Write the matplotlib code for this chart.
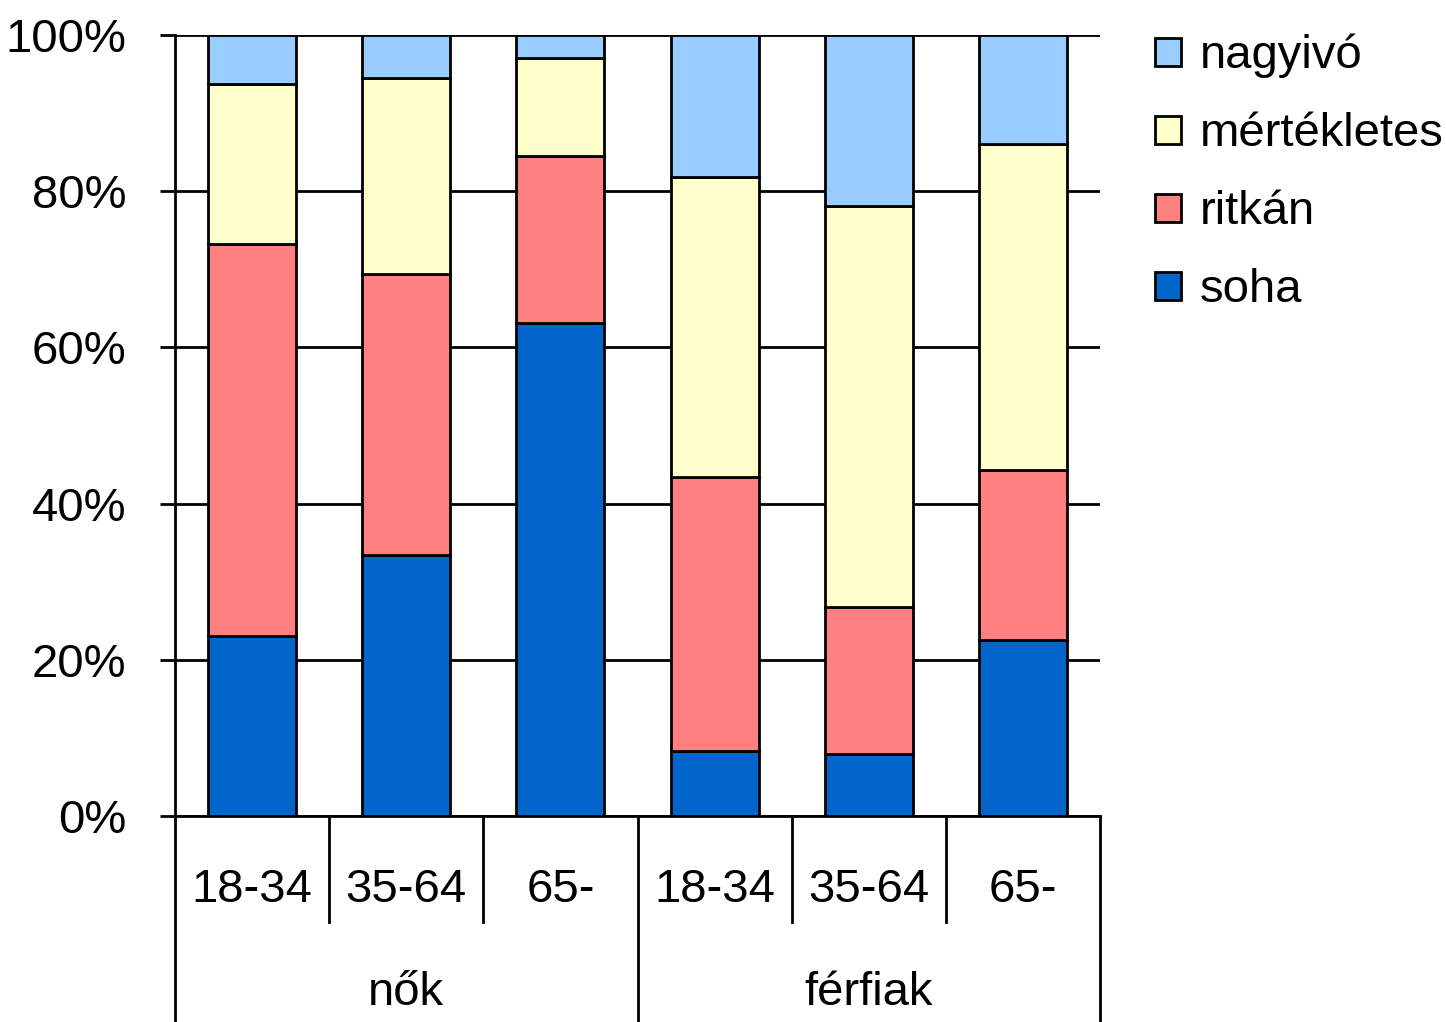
import matplotlib
matplotlib.use("Agg")
import matplotlib.pyplot as plt
import numpy as np

categories = ["18-34", "35-64", "65-", "18-34", "35-64", "65-"]
groups = ["nők", "férfiak"]
series_names = ["soha", "ritkán", "mértékletes", "nagyivó"]
soha = [23.0, 33.4, 63.1, 8.3, 7.9, 22.5]
ritkan = [50.2, 36.0, 21.4, 35.1, 18.9, 21.8]
mertekletes = [20.5, 25.1, 12.6, 38.4, 51.3, 41.7]
nagyivo = [6.3, 5.5, 2.9, 18.2, 21.9, 14.0]
colors = ["#0066CC", "#FF8080", "#FFFFCC", "#99CCFF"]
yticks = [0, 20, 40, 60, 80, 100]
ytick_labels = ["0%", "20%", "40%", "60%", "80%", "100%"]

plt.rcParams['font.family'] = ['Liberation Sans', 'DejaVu Sans']

W, H = 1446, 1022
LW = 2.0
fig = plt.figure(figsize=(W / 100, H / 100), dpi=100)
ax = fig.add_axes([175 / W, 1 - 816 / H, (1100 - 175) / W, (816 - 35) / H])

x = np.arange(len(categories))
data = [soha, ritkan, mertekletes, nagyivo]
bottom = np.zeros(len(categories))
handles = []
for vals, c, name in zip(data, colors, series_names):
    b = ax.bar(x, vals, 0.57, bottom=bottom, color=c, edgecolor="black",
               linewidth=LW, label=name, zorder=3)
    handles.append(b)
    bottom += np.array(vals)

ax.set_xlim(-0.5, len(categories) - 0.5)
ax.set_ylim(0, 100)
ax.set_yticks(yticks)
ax.set_yticklabels(ytick_labels, fontsize=34)
ax.yaxis.grid(True, color="black", linewidth=LW, zorder=0)
ax.set_axisbelow(True)
ax.tick_params(axis="y", length=11, width=LW, direction="out", pad=24, colors="black")
ax.set_xticks([])
for s in ["top", "right"]:
    ax.spines[s].set_visible(False)
ax.spines["left"].set_linewidth(LW)
ax.spines["bottom"].set_linewidth(LW)

# category and group labels with separators
tr = ax.get_xaxis_transform()
y_inner = -(922 - 816) / 781
y_outer = -(1022 - 816) / 781 - 0.02
for i, cat in enumerate(categories):
    ax.text(i, -(890 - 816) / 781, cat, transform=tr, ha="center", va="center", fontsize=34)
for xs in [0.5, 1.5, 3.5, 4.5]:
    ax.plot([xs, xs], [0, y_inner], transform=tr, color="black", lw=LW, clip_on=False)
for xs in [-0.5, 2.5, 5.5]:
    ax.plot([xs, xs], [0, y_outer], transform=tr, color="black", lw=LW, clip_on=False)
for g, gname in enumerate(groups):
    ax.text(1 + 3 * g, -(993 - 816) / 781, gname, transform=tr, ha="center", va="center", fontsize=34)

leg = ax.legend(handles[::-1], series_names[::-1], loc="upper left",
                bbox_to_anchor=(1155 / W, 1 - 34 / H), bbox_transform=fig.transFigure,
                frameon=False, fontsize=34, handlelength=0.55, handleheight=0.55,
                handletextpad=0.4, labelspacing=0.72, borderpad=0, borderaxespad=0)

fig.savefig("out.png", dpi=100)
